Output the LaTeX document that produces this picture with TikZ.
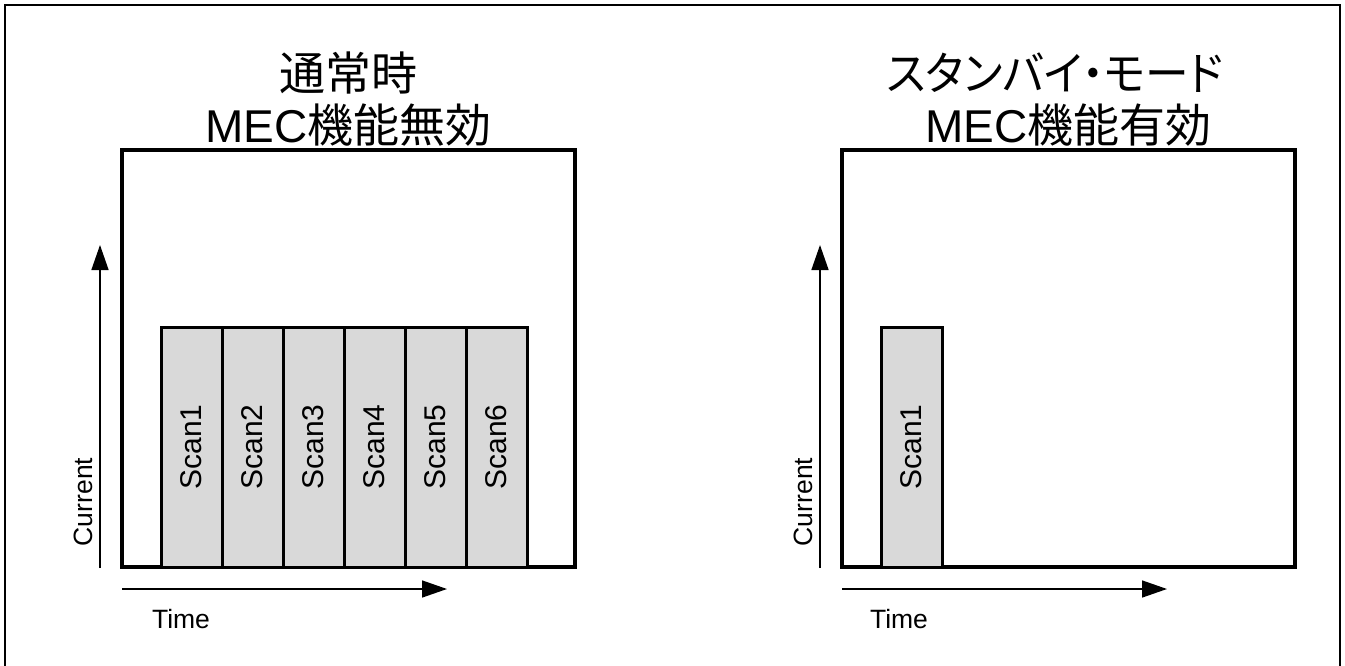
\documentclass[tikz,border=0pt]{standalone}
\usepackage{fontspec}
\setmainfont{Liberation Sans}
\newfontfamily\cjk{Noto Sans CJK JP}
\newfontfamily\cjkp[RawFeature=+palt]{Noto Sans CJK JP}
\usetikzlibrary{arrows.meta}
\definecolor{scangray}{RGB}{217,217,217}
\tikzset{
  panelbox/.style={draw, line width=3.5pt, minimum width=453pt, minimum height=417pt, inner sep=0pt},
  scanbox/.style={draw, fill=scangray, line width=3pt, rotate=90, minimum width=240pt, minimum height=61pt, inner sep=0pt, font=\fontsize{30}{36}\selectfont},
  axis/.style={line width=1.5pt, -{Triangle[length=25pt,width=17pt]}},
  axlabel/.style={font=\fontsize{26.5}{30}\selectfont, inner sep=0pt},
  titletext/.style={font=\fontsize{46}{52}\selectfont, inner sep=0pt, anchor=base},
}
\begin{document}
\begin{tikzpicture}[x=1pt,y=-1pt]
\useasboundingbox (0,0) rectangle (1345,665);
\draw[line width=2pt] (5,5) rectangle (1340,672);

% ---------- left panel ----------
\node[titletext] (tL1) at (348.5,90) {\cjk 通常時};
\node[titletext] (tL2) at (348.5,142) {MEC{\cjk 機能無効}};
\node[panelbox] (boxL) at (348.5,358.5) {};
\foreach \i in {1,...,6}{
  \node[scanbox] (sL\i) at ({191.5+61*(\i-1)},447) {Scan\i};
}
\coordinate (cL0) at (100,568);
\coordinate (cL1) at (100,245);
\draw[axis] (cL0) -- (cL1);
\coordinate (tL0) at (122,589);
\coordinate (tLe) at (447,589);
\draw[axis] (tL0) -- (tLe);
\node[axlabel, rotate=90] (curL) at (83,502) {Current};
\node[axlabel, anchor=base] (timeL) at (181,628) {Time};

% ---------- right panel ----------
\node[titletext, xscale=0.95] (tR1) at (1055,90) {\cjkp スタンバイ・モード};
\node[titletext] (tR2) at (1068.5,142) {MEC{\cjk 機能有効}};
\node[panelbox] (boxR) at (1068.5,358.5) {};
\node[scanbox] (sR1) at (911.5,447) {Scan1};
\coordinate (cR0) at (820,568);
\coordinate (cR1) at (820,245);
\draw[axis] (cR0) -- (cR1);
\coordinate (tR0) at (842,589);
\coordinate (tRe) at (1167,589);
\draw[axis] (tR0) -- (tRe);
\node[axlabel, rotate=90] (curR) at (803,502) {Current};
\node[axlabel, anchor=base] (timeR) at (899,628) {Time};
\end{tikzpicture}
\end{document}
